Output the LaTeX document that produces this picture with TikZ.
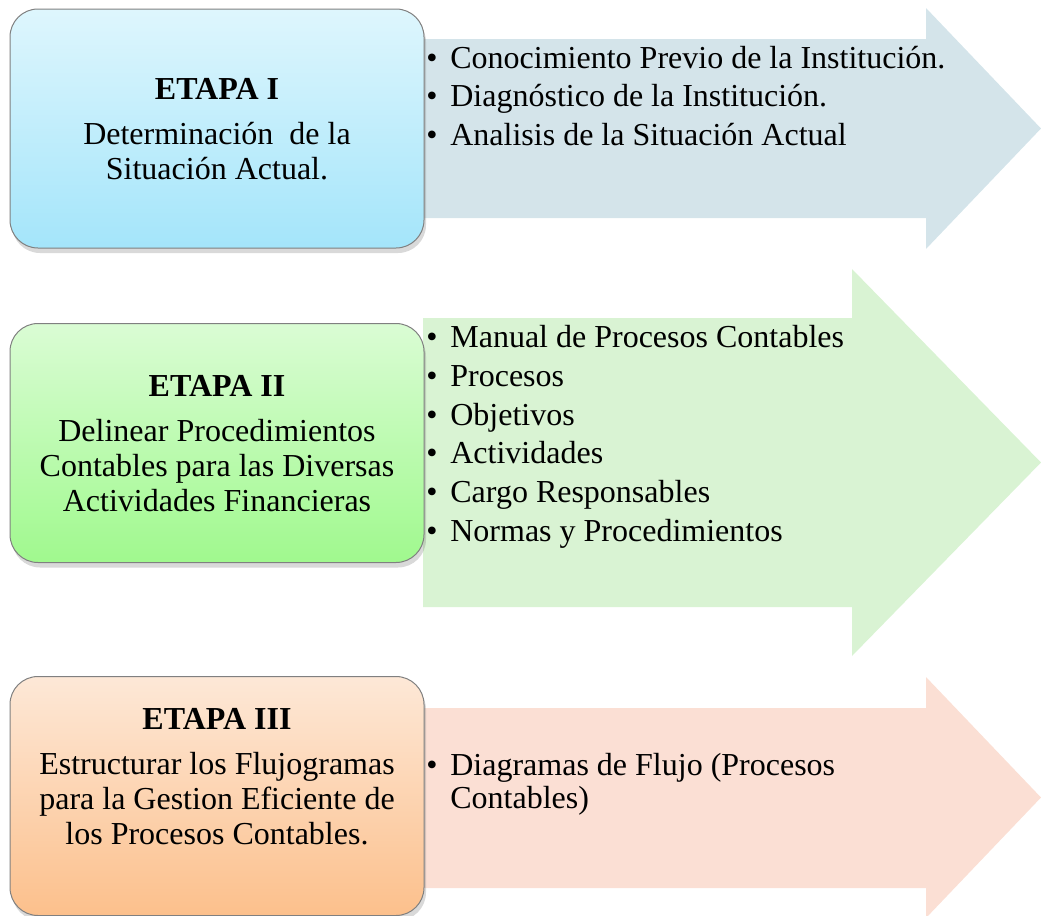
\documentclass[tikz,border=0pt]{standalone}
\usepackage{fontspec}
\setmainfont{Liberation Serif}
\usetikzlibrary{positioning,shadows}

\definecolor{cieloA}{RGB}{222,246,253}
\definecolor{cieloB}{RGB}{164,229,250}
\definecolor{verdeA}{RGB}{218,252,212}
\definecolor{verdeB}{RGB}{160,249,142}
\definecolor{naranjaA}{RGB}{253,232,215}
\definecolor{naranjaB}{RGB}{252,192,140}
\definecolor{flechaA}{RGB}{212,228,234}
\definecolor{flechaB}{RGB}{217,243,211}
\definecolor{flechaC}{RGB}{251,223,212}
\definecolor{borde}{RGB}{128,128,128}

\newcommand{\vineta}{\makebox[12pt][l]{\textbullet}}

\tikzset{
  etapa/.style={draw=borde, line width=0.5pt, rounded corners=14pt,
    minimum width=207pt, minimum height=119.5pt, inner sep=0pt,
    drop shadow={shadow xshift=1pt, shadow yshift=-2.5pt, opacity=0.3}},
  etapatext/.style={anchor=north, align=center, inner sep=0pt,
    font=\fontsize{16}{17.5}\selectfont},
  item/.style={anchor=base west, inner sep=0pt, text height=11pt,
    text depth=4.5pt, font=\fontsize{16}{19}\selectfont}
}

\begin{document}
\begin{tikzpicture}[x=0.5pt,y=-0.5pt]
        \useasboundingbox (0,0) rectangle (1041,916);

        % flechas de fondo
        \fill[flechaA] (423,39) -- (926,39) -- (926,8) -- (1041,128.5)
            -- (926,249) -- (926,218) -- (423,218) -- cycle;
        \fill[flechaB] (423,318) -- (852,318) -- (852,269) -- (1041,462.5)
            -- (852,656) -- (852,607) -- (423,607) -- cycle;
        \fill[flechaC] (423,708) -- (926,708) -- (926,677) -- (1041,797.5)
            -- (926,918) -- (926,888) -- (423,888) -- cycle;

        % etapa I
        \node (e1) [etapa, top color=cieloA, bottom color=cieloB] at (217,128.5) {};
        \node (t1) [etapatext] at (217,77.5) {\textbf{ETAPA I}\\[5pt]
            Determinación \ de la\\ Situación Actual.};

        \node (a1) [item] at (426,68) {\vineta Conocimiento Previo de la Institución.};
        \node (a2) [item, below right=3.5pt and 0pt of a1.south west] {\vineta Diagnóstico de la Institución.};
        \node (a3) [item, below right=3.5pt and 0pt of a2.south west] {\vineta Analisis de la Situación Actual};

        % etapa II
        \node (e2) [etapa, top color=verdeA, bottom color=verdeB] at (217,443) {};
        \node (t2) [etapatext] at (217,374.5) {\textbf{ETAPA II}\\[5pt]
            Delinear Procedimientos\\ Contables para las Diversas\\ Actividades Financieras};

        \node (b1) [item] at (426,347.5) {\vineta Manual de Procesos Contables};
        \node (b2) [item, below right=3.5pt and 0pt of b1.south west] {\vineta Procesos};
        \node (b3) [item, below right=3.5pt and 0pt of b2.south west] {\vineta Objetivos};
        \node (b4) [item, below right=3.5pt and 0pt of b3.south west] {\vineta Actividades};
        \node (b5) [item, below right=3.5pt and 0pt of b4.south west] {\vineta Cargo Responsables};
        \node (b6) [item, below right=3.5pt and 0pt of b5.south west] {\vineta Normas y Procedimientos};

        % etapa III
        \node (e3) [etapa, top color=naranjaA, bottom color=naranjaB] at (217,796) {};
        \node (t3) [etapatext] at (217,707.5) {\textbf{ETAPA III}\\[5pt]
            Estructurar los Flujogramas\\ para la Gestion Eficiente de\\ los Procesos Contables.};

        \node (c1) [item] at (426,775) {\vineta Diagramas de Flujo (Procesos};
        \node (c2) [item, below right=1pt and 0pt of c1.south west] {\hspace*{12pt}Contables)};

\end{tikzpicture}
\end{document}
